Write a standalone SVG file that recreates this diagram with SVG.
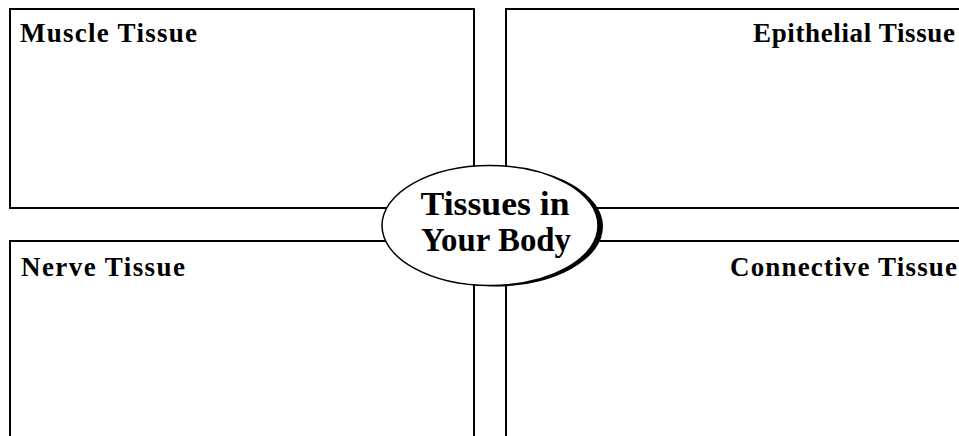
<svg xmlns="http://www.w3.org/2000/svg" width="959" height="436" viewBox="0 0 959 436">
<style>
.box{fill:none;stroke:#000;stroke-width:2}
.lbl{font-family:"Liberation Serif","Times New Roman",serif;font-weight:bold;font-size:27px;fill:#000}
.title{font-family:"Liberation Serif","Times New Roman",serif;font-weight:bold;font-size:34px;fill:#000;text-anchor:middle}
</style>
<rect width="959" height="436" fill="#fff"/>
<g id="muscle">
<rect class="box" x="10" y="9" width="464" height="199"/>
<text class="lbl" x="20" y="42" textLength="177" lengthAdjust="spacing">Muscle Tissue</text>
</g>
<g id="epithelial">
<rect class="box" x="506" y="9" width="470" height="199"/>
<text class="lbl" x="753" y="42" textLength="202" lengthAdjust="spacing">Epithelial Tissue</text>
</g>
<g id="nerve">
<rect class="box" x="10" y="241" width="464" height="210"/>
<text class="lbl" x="21" y="276" textLength="164" lengthAdjust="spacing">Nerve Tissue</text>
</g>
<g id="connective">
<rect class="box" x="506" y="241" width="470" height="210"/>
<text class="lbl" x="730" y="276" textLength="227" lengthAdjust="spacing">Connective Tissue</text>
</g>
<g id="center">
<ellipse cx="495" cy="226.5" rx="108" ry="60" fill="#000"/>
<ellipse cx="490" cy="225.5" rx="108" ry="60" fill="#fff" stroke="#000" stroke-width="1.5"/>
<text class="title" x="495" y="215" textLength="149" lengthAdjust="spacingAndGlyphs">Tissues in</text>
<text class="title" x="496" y="251" textLength="150" lengthAdjust="spacingAndGlyphs">Your Body</text>
</g>
</svg>
